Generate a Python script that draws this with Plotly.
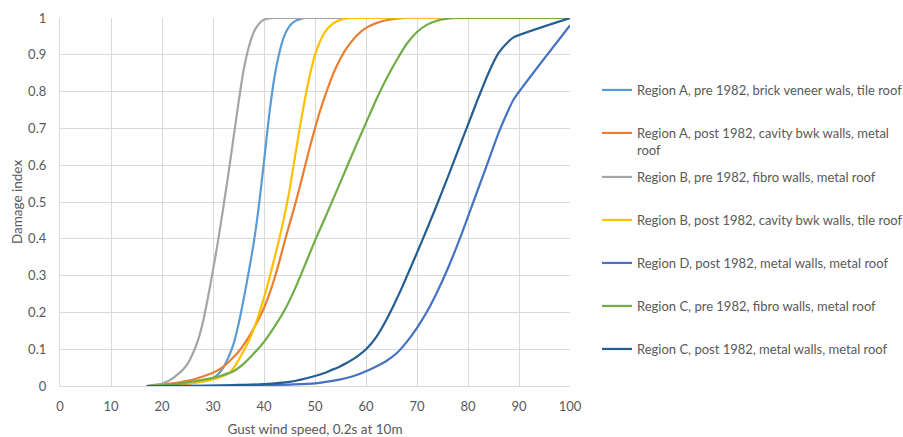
import plotly.graph_objects as go

# Damage index vs gust wind speed, one curve per building class
names = [
    "Region A, pre 1982, brick veneer wals, tile roof",
    "Region A, post 1982, cavity bwk walls, metal<br>roof",
    "Region B, pre 1982, fibro walls, metal roof",
    "Region B, post 1982, cavity bwk walls, tile roof",
    "Region D, post 1982, metal walls, metal roof",
    "Region C, pre 1982, fibro walls, metal roof",
    "Region C, post 1982, metal walls, metal roof",
]
colors = ["#5B9BD5", "#ED7D31", "#A5A5A5", "#FFC000", "#4472C4", "#70AD47", "#255E91"]

a_pre_x = [17, 20, 25, 28, 30, 31, 32, 33, 34, 35, 36, 37, 38, 39, 40, 41, 42, 43, 44, 45, 46, 47, 48, 100]
a_pre_y = [0, 0.002, 0.008, 0.015, 0.022, 0.032, 0.05, 0.077, 0.113, 0.168, 0.235, 0.31, 0.39, 0.49,
           0.61, 0.735, 0.835, 0.905, 0.952, 0.978, 0.991, 0.997, 1, 1]

a_post_x = [17, 20, 22, 25, 28, 30, 32, 34, 35, 36, 37, 38, 39, 40, 41, 42, 43, 44, 45, 46, 47, 48,
            49, 50, 51, 52, 53, 54, 55, 56, 57, 58, 60, 62, 64, 66, 68, 100]
a_post_y = [0, 0.004, 0.007, 0.014, 0.026, 0.036, 0.052, 0.078, 0.093, 0.112, 0.133, 0.157, 0.183, 0.212,
            0.248, 0.29, 0.338, 0.39, 0.44, 0.488, 0.54, 0.595, 0.65, 0.70, 0.748, 0.79, 0.828, 0.862,
            0.89, 0.914, 0.933, 0.95, 0.973, 0.986, 0.994, 0.998, 1, 1]

b_pre_x = [17, 18, 19, 20, 21, 22, 23, 24, 25, 26, 27, 28, 29, 30, 31, 32, 33, 34, 35, 36, 37, 38, 39,
           40, 41, 42, 100]
b_pre_y = [0, 0.002, 0.004, 0.006, 0.012, 0.02, 0.031, 0.043, 0.06, 0.087, 0.122, 0.172, 0.24, 0.315,
           0.395, 0.483, 0.575, 0.672, 0.77, 0.858, 0.92, 0.962, 0.984, 0.995, 0.999, 1, 1]

b_post_x = [17, 20, 25, 28, 30, 32, 33, 34, 35, 36, 37, 38, 39, 40, 41, 42, 43, 44, 45, 46, 47, 48,
            49, 50, 51, 52, 53, 54, 55, 56, 57, 100]
b_post_y = [0, 0.001, 0.006, 0.012, 0.018, 0.027, 0.034, 0.048, 0.07, 0.095, 0.122, 0.155, 0.195, 0.24,
            0.29, 0.345, 0.40, 0.462, 0.532, 0.617, 0.70, 0.778, 0.845, 0.90, 0.937, 0.963, 0.979, 0.989,
            0.995, 0.998, 1, 1]

d_post_x = [17, 30, 40, 45, 50, 55, 56, 58, 60, 62, 64, 66, 68, 70, 72, 74, 76, 78, 80, 82, 84, 86, 88,
            89, 100]
d_post_y = [0, 0.0005, 0.002, 0.004, 0.007, 0.018, 0.021, 0.029, 0.04, 0.053, 0.068, 0.089, 0.12, 0.158,
            0.203, 0.257, 0.318, 0.386, 0.46, 0.536, 0.612, 0.688, 0.752, 0.78, 0.98]

c_pre_x = [17, 20, 25, 30, 32, 34, 36, 38, 40, 42, 44, 46, 48, 50, 52, 54, 56, 58, 60, 62, 64, 66, 68,
           70, 72, 74, 76, 78, 100]
c_pre_y = [0, 0.002, 0.01, 0.022, 0.03, 0.04, 0.06, 0.088, 0.12, 0.16, 0.205, 0.262, 0.328, 0.395,
           0.458, 0.522, 0.587, 0.652, 0.715, 0.778, 0.835, 0.885, 0.93, 0.962, 0.982, 0.993, 0.998, 1, 1]

c_post_x = [17, 25, 30, 35, 40, 45, 50, 52, 53, 55, 56, 57, 58, 59, 60, 61, 62, 63, 64, 65, 66, 67, 68,
            69, 70, 72, 74, 76, 78, 80, 82, 84, 86, 88, 89, 100]
c_post_y = [0, 0.0005, 0.001, 0.003, 0.005, 0.011, 0.027, 0.036, 0.042, 0.054, 0.061, 0.069, 0.078,
            0.088, 0.10, 0.115, 0.133, 0.155, 0.18, 0.207, 0.236, 0.266, 0.298, 0.33, 0.362, 0.428, 0.496,
            0.566, 0.638, 0.71, 0.782, 0.85, 0.905, 0.937, 0.948, 1.0]

series_x = [a_pre_x, a_post_x, b_pre_x, b_post_x, d_post_x, c_pre_x, c_post_x]
series_y = [a_pre_y, a_post_y, b_pre_y, b_post_y, d_post_y, c_pre_y, c_post_y]

x_ticks = list(range(0, 101, 10))
y_ticks = [0, 0.1, 0.2, 0.3, 0.4, 0.5, 0.6, 0.7, 0.8, 0.9, 1]
y_tick_text = ["0", "0.1", "0.2", "0.3", "0.4", "0.5", "0.6", "0.7", "0.8", "0.9", "1"]

FONT = "Lato"
TEXT = "#595959"
GRID = "#D9D9D9"

W, H = 903, 437
L, R, T, B = 60, 333, 18, 51
plot_w = W - L - R
plot_h = H - T - B

fig = go.Figure()
legend_rows = [90, 133, 177, 220, 263, 306, 349]

for i, (nm, col, xs, ys) in enumerate(zip(names, colors, series_x, series_y)):
    key = "legend" if i == 0 else f"legend{i + 1}"
    fig.add_trace(go.Scatter(
        x=xs, y=ys, mode="lines", name=nm,
        line=dict(color=col, width=2.2, shape="spline", smoothing=0.6),
        legend=key,
    ))
    fig.layout[key] = dict(
        x=(597 - L) / plot_w,
        y=(T + plot_h - (legend_rows[i] - 15)) / plot_h,
        xanchor="left", yanchor="top",
        font=dict(family=FONT, size=13, color=TEXT),
        bgcolor="rgba(0,0,0,0)", borderwidth=0,
        valign="top", itemwidth=30, tracegroupgap=0,
    )

fig.update_layout(
    width=W, height=H,
    margin=dict(l=L, r=R, t=T, b=B, autoexpand=False),
    paper_bgcolor="white", plot_bgcolor="white",
    font=dict(family=FONT, color=TEXT),
    showlegend=True,
    xaxis=dict(
        range=[0, 100], tickvals=x_ticks, showgrid=True, gridcolor=GRID, gridwidth=1.3,
        zeroline=False, showline=True, linecolor=GRID, linewidth=1.3,
        ticks="", ticklabelstandoff=8,
        tickfont=dict(family=FONT, size=13, color=TEXT),
        title=dict(text="Gust wind speed, 0.2s at 10m", standoff=12,
                   font=dict(family=FONT, size=13.5, color=TEXT)),
    ),
    yaxis=dict(
        range=[0, 1], tickvals=y_ticks, ticktext=y_tick_text, showgrid=True, gridcolor=GRID,
        gridwidth=1.3, zeroline=False, showline=True, linecolor=GRID, linewidth=1.3,
        ticks="", ticklabelstandoff=10,
        tickfont=dict(family=FONT, size=13, color=TEXT),
        title=dict(text="Damage index", standoff=2,
                   font=dict(family=FONT, size=13.5, color=TEXT)),
    ),
)

fig.write_html("out.html")
